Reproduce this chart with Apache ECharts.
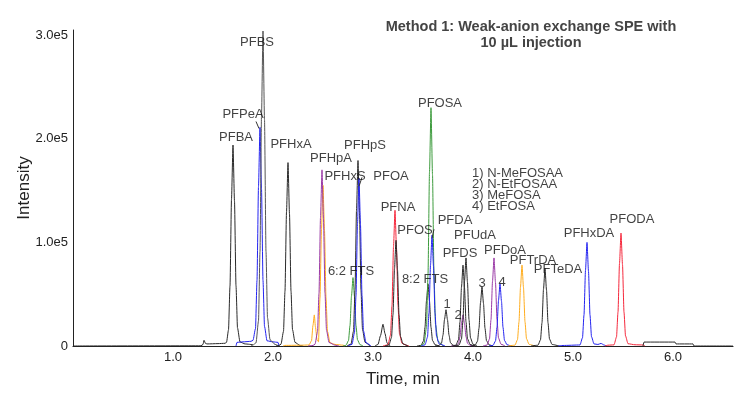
<!DOCTYPE html>
<html>
<head>
<meta charset="utf-8">
<script src="https://cdn.jsdelivr.net/npm/echarts@6/dist/echarts.min.js"></script>
<style>
  html, body { margin: 0; padding: 0; background: #fff; }
  #chart { width: 750px; height: 399px; }
</style>
</head>
<body>
<div id="chart"></div>
<script>
// chromatogram traces, [time (min), intensity (cps)]
var pfba = [[0,0],[1.28,200],[1.30,1500],[1.31,5500],[1.325,2500],[1.34,2000],[1.45,2300],[1.52,2600],[1.535,3500],[1.555,15500],[1.57,58000],[1.585,141600],[1.60,194000],[1.615,139700],[1.63,58200],[1.645,17500],[1.67,3900],[1.72,2000],[1.80,1200]];
var pfpea = [[1.63,0],[1.64,3500],[1.70,4000],[1.78,4500],[1.80,5500],[1.825,16900],[1.84,63300],[1.855,154000],[1.87,211000],[1.885,151900],[1.90,63300],[1.915,19000],[1.94,5000],[2.00,4000],[2.05,3500],[2.06,0]];
var pfbs = [[1.78,0],[1.80,1000],[1.83,3000],[1.855,24300],[1.87,91200],[1.885,222000],[1.90,304000],[1.915,218900],[1.93,91200],[1.945,27400],[1.97,6100],[2.02,1500],[2.06,0]];
var pfhxa = [[2.03,0],[2.06,500],[2.08,1800],[2.105,14200],[2.12,53100],[2.135,129200],[2.15,177000],[2.165,127400],[2.18,53100],[2.195,15900],[2.22,3500],[2.27,500],[2.30,0]];
var pfhxs = [[2.10,0],[2.12,600],[2.30,800],[2.36,1000],[2.385,5000],[2.40,20000],[2.413,30000],[2.425,18000],[2.44,6000],[2.455,4000],[2.47,46500],[2.485,113000],[2.50,155000],[2.515,111600],[2.53,46500],[2.545,14000],[2.57,3100],[2.62,1500],[2.70,800],[2.72,0]];
var pfhpa = [[2.35,0],[2.40,500],[2.42,1700],[2.445,13600],[2.46,51000],[2.475,124100],[2.49,170000],[2.505,122400],[2.52,51000],[2.535,15300],[2.56,3400],[2.62,800],[2.66,0]];
var fts62 = [[2.70,0],[2.73,660],[2.755,5300],[2.77,19800],[2.785,48200],[2.80,66000],[2.815,47500],[2.83,19800],[2.845,5900],[2.87,1300],[2.90,0]];
var pfhps = [[2.74,0],[2.78,1800],[2.805,14300],[2.82,53700],[2.835,130700],[2.85,179000],[2.865,128900],[2.88,53700],[2.895,16100],[2.92,3600],[2.97,0]];
var pfoa = [[2.75,0],[2.79,1600],[2.815,13000],[2.83,48600],[2.845,118300],[2.86,162000],[2.875,116600],[2.89,48600],[2.905,14600],[2.93,3200],[2.98,0]];
var bump310 = [[3.02,0],[3.05,1500],[3.075,10000],[3.10,21000],[3.12,12000],[3.14,3000],[3.17,0]];
var pfna = [[3.10,0],[3.12,500],[3.15,1300],[3.175,10500],[3.19,39300],[3.205,95600],[3.22,131000],[3.235,94300],[3.25,39300],[3.265,11800],[3.29,2600],[3.33,800],[3.36,0]];
var pfos = [[3.12,0],[3.16,1000],[3.185,8200],[3.20,30600],[3.215,74500],[3.23,102000],[3.245,73400],[3.26,30600],[3.275,9200],[3.30,2000],[3.35,0]];
var fts82 = [[3.44,0],[3.48,600],[3.505,4800],[3.52,18000],[3.535,43800],[3.55,60000],[3.565,43200],[3.58,18000],[3.595,5400],[3.62,1200],[3.66,0]];
var pfosa = [[3.47,0],[3.51,2300],[3.535,18400],[3.55,69000],[3.565,167900],[3.58,230000],[3.595,165600],[3.61,69000],[3.625,20700],[3.65,4600],[3.70,0]];
var pfda = [[3.48,0],[3.52,1100],[3.545,8600],[3.56,32100],[3.575,78100],[3.59,107000],[3.605,77000],[3.62,32100],[3.635,9600],[3.66,2100],[3.72,0]];
var nmefosaa = [[3.62,0],[3.66,350],[3.685,2800],[3.70,10500],[3.715,25600],[3.73,35000],[3.745,25200],[3.76,10500],[3.775,3200],[3.80,700],[3.84,0]];
var netfosaa = [[3.78,0],[3.83,300],[3.855,2400],[3.87,9000],[3.885,21900],[3.90,30000],[3.915,21600],[3.93,9000],[3.945,2700],[3.97,600],[4.02,0]];
var pfds = [[3.79,0],[3.83,800],[3.855,6200],[3.87,23400],[3.885,56900],[3.90,78000],[3.915,56200],[3.93,23400],[3.945,7000],[3.97,1600],[4.01,0]];
var pfuda = [[3.82,0],[3.86,850],[3.885,6800],[3.90,25500],[3.915,62100],[3.93,85000],[3.945,61200],[3.96,25500],[3.975,7700],[4.00,1700],[4.04,0]];
var mefosa = [[3.98,0],[4.02,570],[4.045,4600],[4.06,17100],[4.075,41600],[4.09,57000],[4.105,41000],[4.12,17100],[4.135,5100],[4.16,1100],[4.20,0]];
var pfdoa = [[4.10,0],[4.14,850],[4.165,6800],[4.18,25500],[4.195,62100],[4.21,85000],[4.225,61200],[4.24,25500],[4.255,7700],[4.28,1700],[4.32,0]];
var etfosa = [[4.16,0],[4.20,600],[4.225,4800],[4.24,18000],[4.255,43800],[4.27,60000],[4.285,43200],[4.30,18000],[4.315,5400],[4.34,1200],[4.38,0]];
var pftrda = [[4.35,0],[4.42,800],[4.445,6200],[4.46,23400],[4.475,56900],[4.49,78000],[4.505,56200],[4.52,23400],[4.535,7000],[4.56,1600],[4.62,0]];
var pfteda = [[4.58,0],[4.65,750],[4.675,6000],[4.69,22500],[4.705,54800],[4.72,75000],[4.735,54000],[4.75,22500],[4.765,6800],[4.79,1500],[4.86,0]];
var pfhxda = [[4.85,0],[4.90,500],[5.07,1000],[5.095,8000],[5.11,30000],[5.125,73000],[5.14,100000],[5.155,72000],[5.17,30000],[5.185,9000],[5.21,2000],[5.25,1500],[5.28,2500],[5.31,1000],[5.33,0]];
var pfoda = [[5.32,0],[5.35,800],[5.41,1100],[5.435,8700],[5.45,32700],[5.465,79600],[5.48,109000],[5.495,78500],[5.51,32700],[5.525,9800],[5.55,2200],[5.62,1200],[5.70,1000],[5.72,0]];
var lateBlack = [[5.70,0],[5.71,3800],[6.02,3800],[6.03,2000],[6.20,2000],[6.21,0],[6.6,0]];

// peak names
var peakNames = ['PFBS','PFPeA','PFBA','PFHxA','PFHpA','PFHxS','PFHpS','PFOA','PFNA','PFOS','PFDA','PFUdA','PFDS','PFDoA','PFTrDA','PFTeDA','PFHxDA','PFODA','6:2 FTS','8:2 FTS','PFOSA','1','2','3','4'];
var keyLines = ['1) N-MeFOSAA','2) N-EtFOSAA','3) MeFOSA','4) EtFOSA'];
var yTicks = [0, 100000, 200000, 300000];
var xTicks = [1, 2, 3, 4, 5, 6];

// label anchors (data coords), same order as peakNames
var labelSpots = [[1.84,292800],[1.70,223400],[1.63,201300],[2.18,194500],[2.58,181000],[2.72,163700],[2.92,193600],[3.18,163700],[3.25,133900],[3.42,111700],[3.82,121300],[4.02,106900],[3.87,89600],[4.32,92400],[4.60,82800],[4.85,74200],[5.16,108800],[5.59,122300],[2.78,72200],[3.52,64500],[3.67,234000],[3.74,40400],[3.85,29900],[4.09,60700],[4.29,61600]];
var keySpots = [[3.99,166600],[3.99,156000],[3.99,145400],[3.99,134800]];

var BLACK = '#2a2a2a', BLUE = '#2424f0', GREEN = '#3d9b3d', RED = '#f5283c', PURPLE = '#9a3aa6', ORANGE = '#ffad1f';
var FONT = '"Liberation Sans", Arial, sans-serif';

var traces = [
  [pfba, BLACK], [pfpea, BLUE], [pfbs, '#555555'], [pfhxa, BLACK], [pfhxs, ORANGE], [pfhpa, PURPLE],
  [fts62, GREEN], [pfhps, BLACK], [pfoa, BLUE], [bump310, BLACK], [pfna, RED], [pfos, BLACK],
  [fts82, BLACK], [pfosa, GREEN], [pfda, BLUE], [nmefosaa, BLACK], [netfosaa, PURPLE], [pfds, BLACK],
  [pfuda, BLACK], [mefosa, BLACK], [pfdoa, PURPLE], [etfosa, BLUE], [pftrda, ORANGE], [pfteda, BLACK],
  [pfhxda, BLUE], [pfoda, RED], [lateBlack, BLACK]
];

var series = traces.map(function (tr) {
  return {
    type: 'line',
    data: tr[0],
    showSymbol: false,
    smooth: 0.2,
    smoothMonotone: 'x',
    silent: true,
    lineStyle: { color: tr[1], width: 1 }
  };
});

var labelData = peakNames.map(function (n, i) {
  return { name: n, value: labelSpots[i] };
});
keyLines.forEach(function (t, i) {
  labelData.push({ name: t, value: keySpots[i], label: { align: 'left' } });
});

series.push({
  type: 'scatter',
  symbolSize: 0,
  silent: true,
  z: 5,
  data: labelData,
  label: {
    show: true,
    position: 'inside',
    formatter: function (p) { return p.name; },
    color: '#111',
    textBorderWidth: 0,
    fontSize: 13,
    fontFamily: FONT
  }
});

// small leader ticks
series.push({
  type: 'line',
  showSymbol: false,
  silent: true,
  connectNulls: false,
  lineStyle: { color: '#333', width: 1 },
  data: [[1.83,216700],[1.86,209900],null,[3.61,112700],[3.59,104000],null,[2.89,162800],[2.86,154100]]
});

var chart = echarts.init(document.getElementById('chart'));
chart.setOption({
  animation: false,
  backgroundColor: '#fff',
  grid: { left: 73, right: 17, top: 30, bottom: 53 },
  graphic: [{
    type: 'text',
    x: 531,
    y: 19,
    style: {
      text: 'Method 1: Weak-anion exchange SPE with\n10 µL injection',
      align: 'center',
      verticalAlign: 'top',
      fill: '#444',
      font: 'bold 14.5px ' + FONT,
      lineHeight: 16
    }
  }],
  xAxis: {
    type: 'value',
    min: 0,
    max: 6.6,
    interval: 1,
    name: 'Time, min',
    nameLocation: 'middle',
    nameGap: 25,
    nameTextStyle: { fontSize: 17, color: '#222', fontFamily: FONT },
    axisLine: { show: true, lineStyle: { color: '#222', width: 1.2 } },
    axisTick: { show: false },
    splitLine: { show: false },
    axisLabel: {
      showMinLabel: false,
      showMaxLabel: false,
      margin: 5,
      fontSize: 13,
      color: '#222',
      fontFamily: FONT,
      formatter: function (v) { return xTicks.indexOf(v) >= 0 ? v.toFixed(1) : ''; }
    }
  },
  yAxis: {
    type: 'value',
    min: 0,
    max: 305000,
    interval: 100000,
    name: 'Intensity',
    nameLocation: 'middle',
    nameGap: 40,
    nameMoveOverlap: false,
    nameTextStyle: { fontSize: 17, color: '#222', fontFamily: FONT },
    axisLine: { show: true, lineStyle: { color: '#222', width: 1 } },
    axisTick: { show: false },
    splitLine: { show: false },
    axisLabel: {
      showMaxLabel: false,
      margin: 5,
      fontSize: 13,
      color: '#222',
      fontFamily: FONT,
      formatter: function (v) {
        if (yTicks.indexOf(v) < 0) return '';
        return v === 0 ? '0' : (v / 100000).toFixed(1) + 'e5';
      }
    }
  },
  series: series
});
</script>
</body>
</html>
